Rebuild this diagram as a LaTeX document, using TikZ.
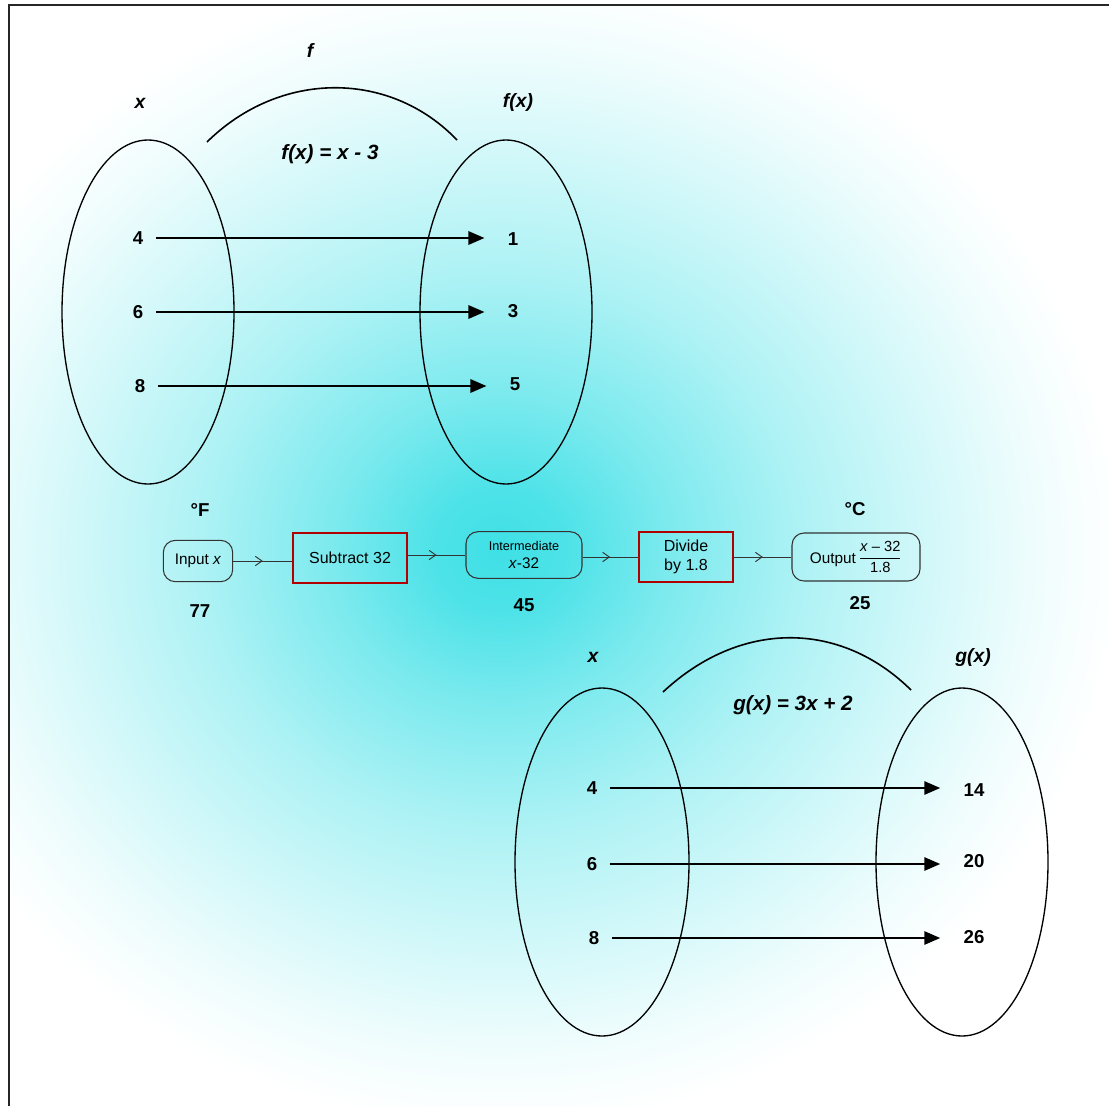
\documentclass[tikz,border=0pt]{standalone}
\usepackage{fontspec}
\setmainfont{Liberation Sans}
\usetikzlibrary{decorations.markings,arrows.meta}
\definecolor{cyglow}{RGB}{62,224,230}
\pgfdeclareradialshading{glow}{\pgfpoint{0bp}{0bp}}{%
 color(0bp)=(cyglow);
 color(2bp)=(cyglow!92!white);
 color(5bp)=(cyglow!68!white);
 color(9bp)=(cyglow!42!white);
 color(13bp)=(cyglow!22!white);
 color(16bp)=(cyglow!8!white);
 color(18.5bp)=(white);
 color(50bp)=(white)}
\begin{document}
\begin{tikzpicture}[x=0.75pt,y=-0.75pt,
  lab/.style={font=\bfseries\itshape\fontsize{14.5}{16}\selectfont},
  deflab/.style={font=\bfseries\itshape\fontsize{15.5}{17}\selectfont},
  num/.style={font=\bfseries\fontsize{14}{16}\selectfont},
  big/.style={font=\bfseries\fontsize{14}{16}\selectfont},
  oval/.style={draw,line width=1pt},
  maparrow/.style={line width=1.5pt,-{Triangle[length=12pt,width=10pt]}},
  rbox/.style={draw=black!80,rounded corners=9pt,line width=0.8pt,inner sep=0pt,font=\fontsize{11.5}{13}\selectfont},
  redbox/.style={draw=red!70!black,line width=1.4pt,inner sep=0pt,font=\fontsize{12}{14}\selectfont,align=center},
  flow/.style={draw=black!80,line width=0.7pt,postaction={decorate},
    decoration={markings,mark=at position 0.5 with {\arrow{Straight Barb[length=5pt,width=7pt]}}}}]
\useasboundingbox (0,0) rectangle (1109,1106);
\fill[white] (0,0) rectangle (1109,1106);
\begin{scope}
\clip (9,5) rectangle (1109,1106);
\shade[shading=glow,rotate around={40:(500,550)}] (500,550) ellipse [x radius=810,y radius=610];
\end{scope}
\draw[line width=1.6pt,black!85] (9,1106) -- (9,5) -- (1109,5);

% top mapping
\draw[oval] (148,312) ellipse [x radius=86,y radius=172];
\draw[oval] (506,312) ellipse [x radius=86,y radius=172];
\draw[line width=1.2pt] (207,142) .. controls (280,70) and (390,70) .. (457,140);
\node[lab] (f) at (310,50) {f};
\node[lab] (xa) at (140,103) {x};
\node[lab] (fx) at (518,103) {f(x)};
\node[deflab] (fdef) at (330,154) {f(x) = x - 3};
\node[num] (a4) at (138,238) {4};
\node[num] (a6) at (138,312) {6};
\node[num] (a8) at (140,386) {8};
\node[num] (b1) at (513,239) {1};
\node[num] (b3) at (513,311) {3};
\node[num] (b5) at (515,384) {5};
\draw[maparrow] (a4.east)++(8,0) -- ([xshift=-14pt]b1.west |- a4.east);
\draw[maparrow] (a6.east)++(8,0) -- ([xshift=-14pt]b3.west |- a6.east);
\draw[maparrow] (a8.east)++(8,0) -- ([xshift=-14pt]b5.west |- a8.east);

% flow row
\node[rbox,minimum width=52pt,minimum height=31pt] (in) at (198,561) {Input \textit{x}};
\node[redbox,minimum width=85pt,minimum height=38pt] (sub) at (350,558) {Subtract 32};
\node[rbox,minimum width=87pt,minimum height=35pt,align=center,font=\fontsize{9.5}{11}\selectfont] (mid) at (524,555) {Intermediate\\[2pt]{\fontsize{11.5}{13}\selectfont\textit{x}-32}};
\node[redbox,minimum width=71pt,minimum height=38pt] (div) at (686,557) {Divide\\by 1.8};
\node[rbox,minimum width=96pt,minimum height=36pt] (out) at (856,557) {Output\,\raisebox{1pt}{$\displaystyle\frac{\mbox{\fontsize{11}{13}\selectfont\textit{x} – 32}}{\mbox{\fontsize{11}{13}\selectfont 1.8}}$}};
\draw[flow] (in.east) -- (sub.west |- in.east);
\draw[flow] (sub.east |- mid.west) -- (mid.west);
\draw[flow] (mid.east |- div.west) -- (div.west);
\draw[flow] (div.east) -- (out.west);
\node[big] (degf) at (200,510) {°F};
\node[big] (n77) at (200,611) {77};
\node[big] (n45) at (524,605) {45};
\node[big] (degc) at (855,509) {°C};
\node[big] (n25) at (860,603) {25};

% bottom mapping
\draw[oval] (602,862) ellipse [x radius=87,y radius=174];
\draw[oval] (962,862) ellipse [x radius=86,y radius=174];
\draw[line width=1.2pt] (663,692) .. controls (740,620) and (840,620) .. (911,690);
\node[lab] (xb) at (593,657) {x};
\node[lab] (gx) at (973,657) {g(x)};
\node[deflab] (gdef) at (793,705) {g(x) = 3x + 2};
\node[num] (c4) at (592,788) {4};
\node[num] (c6) at (592,864) {6};
\node[num] (c8) at (594,938) {8};
\node[num] (d14) at (974,790) {14};
\node[num] (d20) at (974,861) {20};
\node[num] (d26) at (974,937) {26};
\draw[maparrow] (c4.east)++(8,0) -- ([xshift=-14pt]d14.west |- c4.east);
\draw[maparrow] (c6.east)++(8,0) -- ([xshift=-14pt]d20.west |- c6.east);
\draw[maparrow] (c8.east)++(8,0) -- ([xshift=-14pt]d26.west |- c8.east);
\end{tikzpicture}
\end{document}
